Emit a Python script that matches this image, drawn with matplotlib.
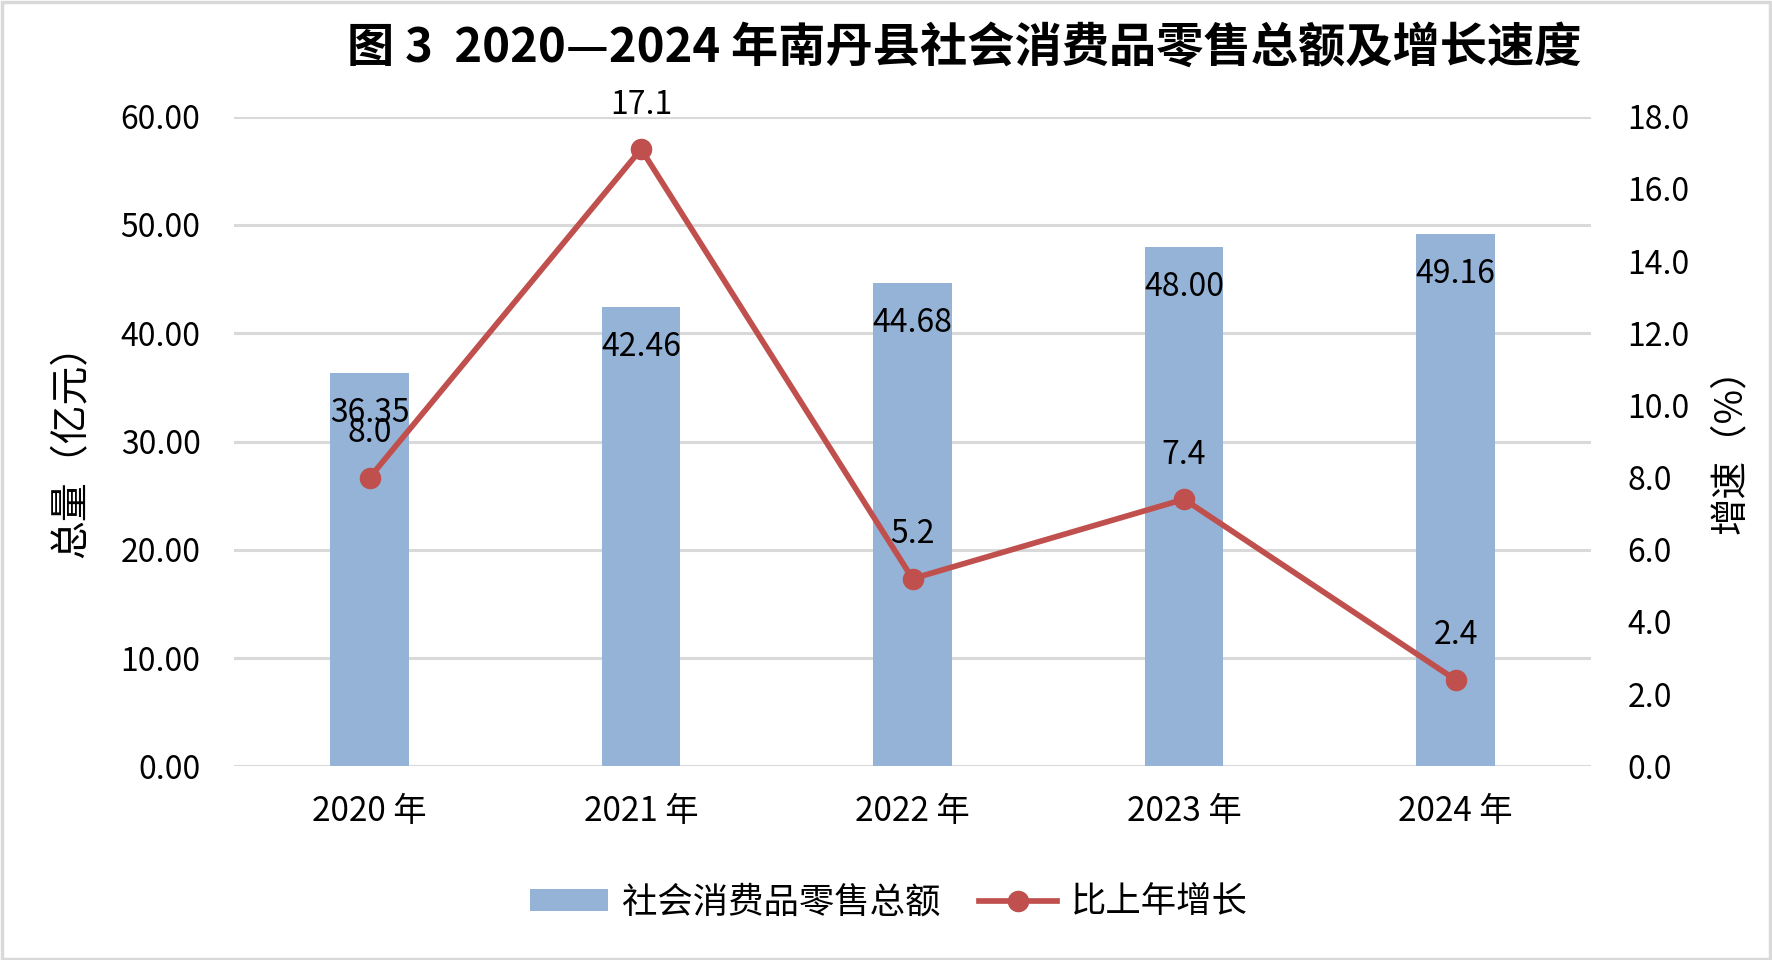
import matplotlib
matplotlib.use("Agg")
from matplotlib import pyplot
from matplotlib.patches import Rectangle

# chart data
years = ["2020 年", "2021 年", "2022 年", "2023 年", "2024 年"]
total_sales = [36.35, 42.46, 44.68, 48.00, 49.16]   # 亿元
growth_rate = [8.0, 17.1, 5.2, 7.4, 2.4]            # %

title_text = "图 3  2020—2024 年南丹县社会消费品零售总额及增长速度"
bar_label = "社会消费品零售总额"
line_label = "比上年增长"

bar_color = "#95B3D7"
line_color = "#C0504D"
grid_color = "#D9D9D9"

pyplot.rcParams["font.family"] = ["Noto Sans CJK SC", "DejaVu Sans"]
pyplot.rcParams["font.size"] = 23

figure = pyplot.figure(figsize=(17.72, 9.60), dpi=100)
axes = figure.add_axes([0.132, 0.2017, 0.766, 0.6768])
axes_right = axes.twinx()

positions = list(range(len(years)))

# bars (left axis)
bars = axes.bar(positions, total_sales, width=0.29, color=bar_color,
                label=bar_label, zorder=2)
axes.set_xlim(-0.5, len(years) - 0.5)
axes.set_ylim(0, 60)
axes.set_yticks(range(0, 61, 10))
axes.set_yticklabels([f"{v:.2f}" for v in range(0, 61, 10)])
axes.set_xticks(positions)
axes.set_xticklabels(years, fontsize=24)
axes.grid(axis="y", color=grid_color, linewidth=2.2, zorder=0)
axes.set_axisbelow(True)
axes.tick_params(axis="y", length=0, pad=24)
axes.tick_params(axis="x", length=0, pad=20)
axes.set_ylabel("总量（亿元）", fontsize=28)
axes.yaxis.set_label_coords(-0.105, 0.5)

for x, value in zip(positions, total_sales):
    axes.annotate(f"{value:.2f}", (x, value), xytext=(0, -29),
                  textcoords="offset points", ha="center", va="center",
                  fontsize=23, zorder=3)

# growth line (right axis)
line, = axes_right.plot(positions, growth_rate, color=line_color,
                        linewidth=4.1, marker="o", markersize=14.5,
                        label=line_label, zorder=4)
axes_right.set_ylim(0, 18)
axes_right.set_yticks(range(0, 19, 2))
axes_right.set_yticklabels([f"{v:.1f}" for v in range(0, 19, 2)])
axes_right.tick_params(axis="y", length=0, pad=26)
axes_right.set_ylabel("增速（%）", fontsize=27, rotation=90)
axes_right.yaxis.set_label_coords(1.088, 0.5)

for x, value in zip(positions, growth_rate):
    axes_right.annotate(f"{value:.1f}", (x, value), xytext=(0, 32),
                        textcoords="offset points", ha="center",
                        va="center", fontsize=23, zorder=5)

for ax in (axes, axes_right):
    for spine in ax.spines.values():
        spine.set_visible(False)

figure.text(0.544, 0.950, title_text, ha="center", va="center",
            fontsize=34, fontweight="bold")

figure.legend([bars, line], [bar_label, line_label], loc="center",
              bbox_to_anchor=(0.5016, 0.060), ncol=2, frameon=False,
              fontsize=25.5, handlelength=2.2, handleheight=0.6,
              handletextpad=0.4, columnspacing=1.1)

# light gray border around the whole picture
figure.patches.append(Rectangle((0.001, 0.001), 0.998, 0.997,
                                transform=figure.transFigure, fill=False,
                                edgecolor=grid_color, linewidth=2.5))

figure.savefig("out.png", dpi=100)
pyplot.close(figure)
